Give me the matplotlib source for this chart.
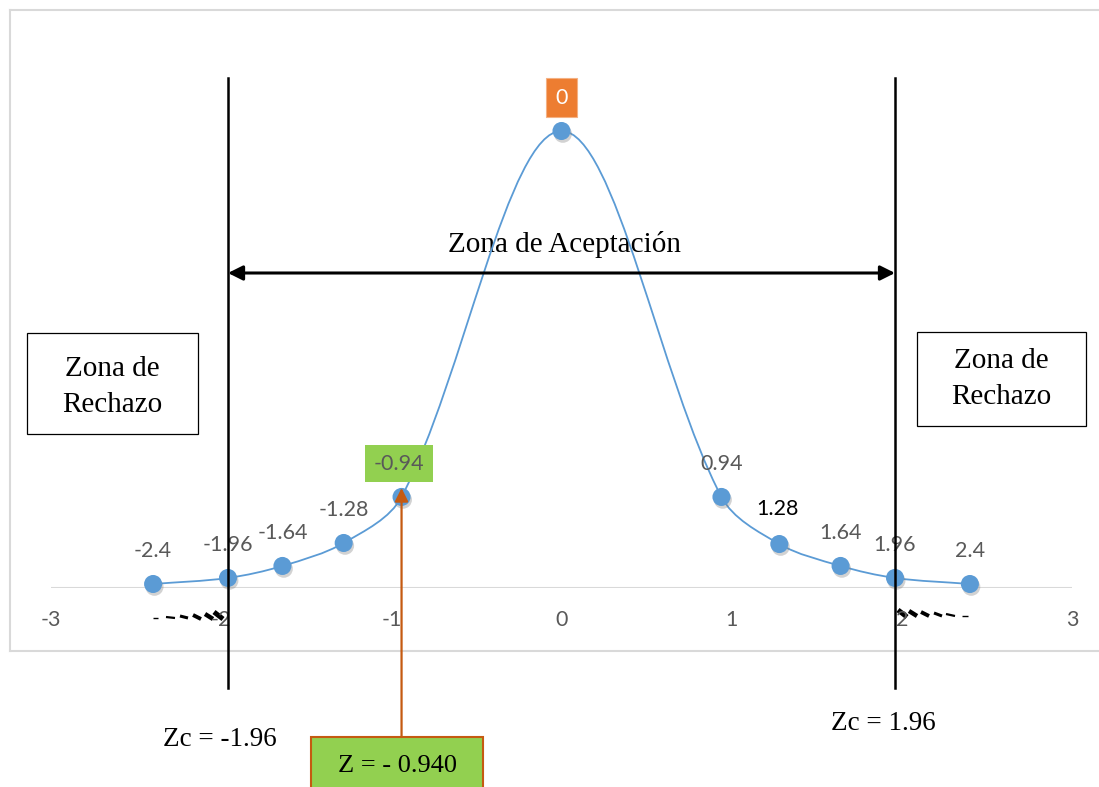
import numpy as np
import matplotlib
matplotlib.use('Agg')
import matplotlib.pyplot as plt
from matplotlib.path import Path
from matplotlib.patches import PathPatch, Rectangle
from matplotlib.transforms import blended_transform_factory
import matplotlib.patheffects as pe

# datos
z_vals = [-2.4, -1.96, -1.64, -1.28, -0.94, 0, 0.94, 1.28, 1.64, 1.96, 2.4]
y_vals = [0.0035, 0.0088, 0.0193, 0.0394, 0.0797, 0.4, 0.0797, 0.0385, 0.0193, 0.0088, 0.0035]
etiquetas = ['-2.4', '-1.96', '-1.64', '-1.28', '-0.94', '0', '0.94', '1.28', '1.64', '1.96', '2.4']
x_ticks = [-3, -2, -1, 0, 1, 2, 3]
z_critico = [-1.96, 1.96]
z_calc = -0.94

AZUL = '#5B9BD5'
GRIS = '#595959'
SERIF = 'Liberation Serif'
SANS = 'Lato'

W, H = 1099, 787
fig = plt.figure(figsize=(W / 100, H / 100), dpi=100)

# capa de fondo en pixeles (marco, cajas de texto)
ov = fig.add_axes([0, 0, 1, 1], zorder=1)
ov.set_xlim(0, W)
ov.set_ylim(H, 0)
ov.axis('off')

# ejes de datos: x -3..3 entre px 50 y 1071, y=0 en px 588
ymax = 0.4 * 528 / 457
ax = fig.add_axes([51 / W, (H - 588) / H, 1021 / W, 528 / H], zorder=2)
ax.set_xlim(-3, 3)
ax.set_ylim(0, ymax)
ax.patch.set_alpha(0)
for s in ax.spines.values():
    s.set_visible(False)
ax.set_yticks([])
ax.set_xticks([])

# marco del area del grafico
ov.plot([10, W], [10, 10], color='#D9D9D9', lw=1.5)
ov.plot([10, 10], [10, 651], color='#D9D9D9', lw=1.5)
ov.plot([10, W], [651, 651], color='#D9D9D9', lw=1.5)

# eje horizontal
ax.axhline(0, color='#D9D9D9', lw=1.5, zorder=1)
for t in x_ticks:
    ax.annotate(str(t), (t, 0), xytext=(0, -23), textcoords='offset points',
                ha='center', va='center', fontsize=15.5, color=GRIS, family=SANS)

# linea suavizada (bezier, tangentes escaladas por longitud de tramo en pantalla)
sx, sy = 170.2, 457 / 0.4
pts = np.column_stack([z_vals, y_vals])
n = len(pts)

def dist(a, b):
    return np.hypot((b[0] - a[0]) * sx, (b[1] - a[1]) * sy)

verts = [pts[0]]
codes = [Path.MOVETO]
for i in range(n - 1):
    p0 = pts[max(i - 1, 0)]
    p1 = pts[i]
    p2 = pts[i + 1]
    p3 = pts[min(i + 2, n - 1)]
    d01, d12, d23 = dist(p0, p1), dist(p1, p2), dist(p2, p3)
    c1 = p1 + (p2 - p0) * d12 / (d01 + d12) / 3 if d01 > 0 else p1 + (p2 - p1) / 3
    c2 = p2 - (p3 - p1) * d12 / (d12 + d23) / 3 if d23 > 0 else p2 - (p2 - p1) / 3
    verts += [c1, c2, p2]
    codes += [Path.CURVE4] * 3
ax.add_patch(PathPatch(Path(verts, codes), facecolor='none', edgecolor=AZUL, lw=1.3, zorder=3))

ax.plot(z_vals, y_vals, 'o', color=AZUL, markersize=13, markeredgewidth=0, zorder=4, clip_on=False,
        path_effects=[pe.SimplePatchShadow(offset=(1, -2), shadow_rgbFace='#7f7f7f', alpha=0.35), pe.Normal()])

# etiquetas de datos
for z, y, lab in zip(z_vals, y_vals, etiquetas):
    kw = dict(ha='center', va='center', fontsize=15.5, family=SANS, color=GRIS,
              textcoords='offset points', annotation_clip=False, zorder=5)
    if lab == '0':
        kw['color'] = 'white'
        ax.annotate(lab, (z, y), xytext=(0, 24),
                    bbox=dict(boxstyle='square,pad=0.45', fc='#ED7D31', ec='#F4B183', lw=0.8), **kw)
    elif lab == '-0.94':
        ax.annotate(lab, (z, y), xytext=(-2, 24),
                    bbox=dict(boxstyle='square,pad=0.4', fc='#92D050', ec='none'), **kw)
    elif lab == '1.28':
        kw['color'] = 'black'
        ax.annotate(lab, (z, y), xytext=(-1, 25), **kw)
    else:
        ax.annotate(lab, (z, y), xytext=(0, 24), **kw)

# lineas verticales de valores criticos
tr = blended_transform_factory(ax.transData, ov.transData)
for zc in z_critico:
    ax.plot([zc, zc], [78, 688], color='black', lw=1.8, transform=tr, clip_on=False, zorder=6)

# flecha zona de aceptacion
ax.annotate('', xy=(z_critico[0], 273), xytext=(z_critico[1], 273), xycoords=tr, textcoords=tr,
            arrowprops=dict(arrowstyle='<|-|>', color='black', lw=2.2, mutation_scale=22,
                            shrinkA=0, shrinkB=0), annotation_clip=False, zorder=6)
ov.text(565, 244, 'Zona de Aceptación', ha='center', va='center', fontsize=21, family=SERIF)

# cajas zona de rechazo
ov.add_patch(Rectangle((27, 333), 171, 101, fc='white', ec='black', lw=0.9))
ov.text(112, 387, 'Zona de\nRechazo', ha='center', va='center', fontsize=21, family=SERIF, linespacing=1.45)
ov.add_patch(Rectangle((917, 332), 169, 94, fc='white', ec='black', lw=0.9))
ov.text(1001, 379, 'Zona de\nRechazo', ha='center', va='center', fontsize=21, family=SERIF, linespacing=1.45)

ov.text(220, 740, 'Zc = -1.96', ha='center', va='center', fontsize=19.5, family=SERIF)
ov.text(883, 724, 'Zc = 1.96', ha='center', va='center', fontsize=19.5, family=SERIF)

# marcas punteadas bajo el eje (mas gruesas e inclinadas cerca de +-2)
for x0, x1, y0, y1, lw in [(153, 158, 618, 618, 1.0), (166, 175, 617, 618, 1.6), (180, 188, 616, 618, 2.2),
                            (193, 201, 615, 619, 2.8), (205, 213, 614, 619, 3.2), (214, 223, 612, 619, 3.6)]:
    ov.plot([x0, x1], [y0, y1], color='black', lw=lw, solid_capstyle='butt')
for x0, x1, y0, y1, lw in [(898, 907, 610, 617, 3.6), (909, 917, 611, 616, 3.2), (921, 929, 612, 616, 2.8),
                            (934, 942, 613, 616, 2.2), (946, 955, 614, 616, 1.6), (962, 968, 616, 616, 1.0)]:
    ov.plot([x0, x1], [y0, y1], color='black', lw=lw, solid_capstyle='butt')

# caja del valor calculado y flecha
ov.add_patch(Rectangle((311, 737), 172, 70, fc='#92D050', ec='#C55A11', lw=1.5))
ov.text(397, 766, 'Z = - 0.940', ha='center', va='center', fontsize=19, family=SERIF)
ax.annotate('', xy=(z_calc, 488), xytext=(z_calc, 737), xycoords=tr, textcoords=tr,
            arrowprops=dict(arrowstyle='-|>', color='#C55A11', lw=1.6, mutation_scale=20,
                            shrinkA=0, shrinkB=0), annotation_clip=False, zorder=6)

fig.savefig('out.png', dpi=100)
